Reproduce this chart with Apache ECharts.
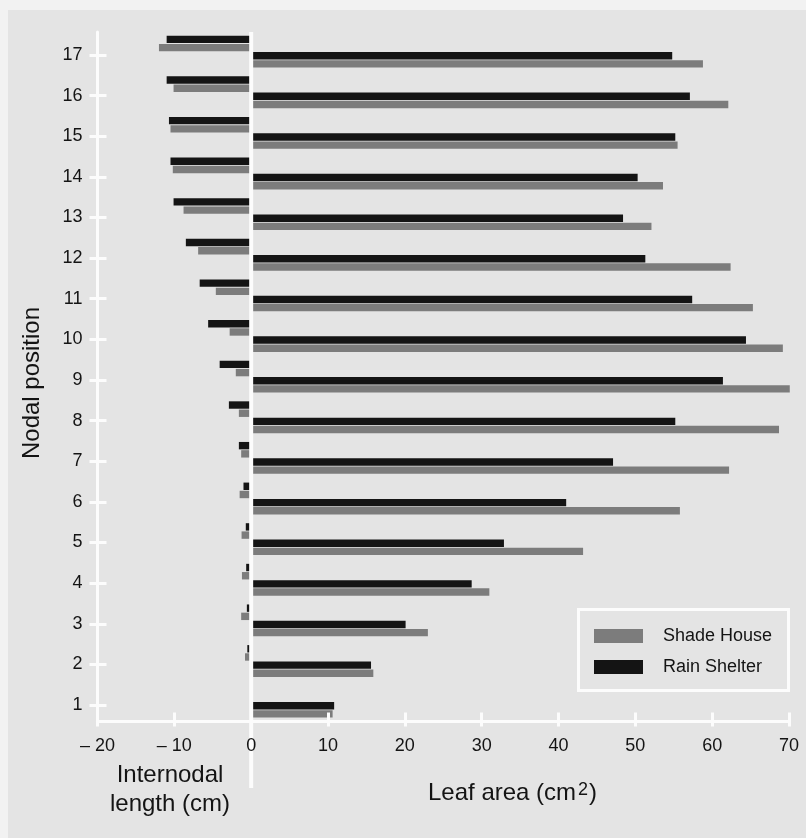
<!DOCTYPE html>
<html>
<head>
<meta charset="utf-8">
<script src="https://cdn.jsdelivr.net/npm/echarts@6/dist/echarts.min.js"></script>
<style>
  html, body { margin: 0; padding: 0; }
  #main { width: 806px; height: 838px; }
</style>
</head>
<body>
<div id="main"></div>
<script>
// nodal position 1 (bottom) .. 17 (top)
var nodalPositions = [1, 2, 3, 4, 5, 6, 7, 8, 9, 10, 11, 12, 13, 14, 15, 16, 17];
// leaf area (cm2), right half
var rainLeafArea  = [10.8, 15.6, 20.1, 28.7, 32.9, 41.0, 47.1, 55.2, 61.4, 64.4, 57.4, 51.3, 48.4, 50.3, 55.2, 57.1, 54.8];
var shadeLeafArea = [10.6, 15.9, 23.0, 31.0, 43.2, 55.8, 62.2, 68.7, 70.1, 69.2, 65.3, 62.4, 52.1, 53.6, 55.5, 62.1, 58.8];
// internodal length (cm), drawn to the left of zero
var rainInternode  = [0, 0.5, 0.56, 0.65, 0.7, 1.0, 1.6, 2.9, 4.1, 5.6, 6.7, 8.5, 10.1, 10.5, 10.7, 11.0, 11.0];
var shadeInternode = [0, 0.8, 1.3, 1.2, 1.25, 1.5, 1.3, 1.6, 2.0, 2.8, 4.6, 6.9, 8.8, 10.2, 10.5, 10.1, 12.0];

var FONT = "'Liberation Sans', Arial, Helvetica, sans-serif";
var WHITE = '#fcfcfc';
var INK = '#141414';
var GREY = '#7c7c7c';
var BAR_H = 7.4, BAR_GAP = 0.8;
var LEFT_TOP = -19.3, RIGHT_TOP = -3.0;   // px offset of each pair from its tick

function pairRenderer(slot, color) {
    return function (params, api) {
        var n = api.value(0);
        var base = api.coord([0, n]);
        var xl = api.coord([-api.value(1), n])[0];
        var xr = api.coord([api.value(2), n])[0];
        var step = slot * (BAR_H + BAR_GAP);
        return {
            type: 'group',
            children: [{
                type: 'rect',
                shape: { x: xl, y: base[1] + LEFT_TOP + step, width: base[0] - xl, height: BAR_H },
                style: { fill: color }
            }, {
                type: 'rect',
                shape: { x: base[0], y: base[1] + RIGHT_TOP + step, width: xr - base[0], height: BAR_H },
                style: { fill: color }
            }]
        };
    };
}

var chart = echarts.init(document.getElementById('main'));

var yMin = 0.594, yMax = 17.566;

chart.setOption({
    animation: false,
    backgroundColor: '#f2f2f2',
    textStyle: { fontFamily: FONT },
    grid: { left: 97.5, right: 17, top: 32, bottom: 116.5 },
    legend: {
        data: ['Shade House', 'Rain Shelter'],
        orient: 'vertical',
        left: 594,
        top: 627,
        padding: 0,
        icon: 'rect',
        itemWidth: 49,
        itemHeight: 14,
        itemGap: 13,
        selectedMode: false,
        textStyle: { fontSize: 18, color: INK, fontFamily: FONT, padding: [0, 0, 0, 15] }
    },
    xAxis: [{
        type: 'value',
        z: 10,
        min: -20, max: 70, interval: 10,
        axisLine: { show: true, onZero: false, lineStyle: { color: WHITE, width: 3 } },
        axisTick: { show: true, length: 5, lineStyle: { color: WHITE, width: 3 } },
        axisLabel: {
            fontSize: 18, color: INK, margin: 16, fontFamily: FONT,
            formatter: function (v) { return v < 0 ? '\u2013 ' + (-v) : String(v); }
        },
        splitLine: { show: false }
    }, {
        type: 'value', position: 'bottom', offset: 0,
        z: 10,
        min: -20, max: 70, interval: 10,
        axisLine: { show: false },
        axisTick: { show: true, inside: true, length: 9, lineStyle: { color: WHITE, width: 3 } },
        axisLabel: { show: false },
        splitLine: { show: false }
    }],
    yAxis: [{
        type: 'value',
        min: yMin, max: yMax,
        axisLine: { show: true, onZero: false, lineStyle: { color: WHITE, width: 3 } },
        axisTick: { show: true, length: 8, customValues: nodalPositions, lineStyle: { color: WHITE, width: 3 } },
        axisLabel: { customValues: nodalPositions, fontSize: 18, color: INK, margin: 15, fontFamily: FONT },
        splitLine: { show: false }
    }, {
        type: 'value', position: 'left', offset: 0,
        min: yMin, max: yMax,
        axisLine: { show: false, onZero: false },
        axisTick: { show: true, inside: true, length: 9, customValues: nodalPositions, lineStyle: { color: WHITE, width: 3 } },
        axisLabel: { show: false },
        splitLine: { show: false }
    }],
    series: [{
        name: 'Rain Shelter',
        type: 'custom',
        clip: false,
        itemStyle: { color: INK },
        encode: { y: 0, x: 2 },
        renderItem: pairRenderer(0, INK),
        data: nodalPositions.map(function (n, i) { return [n, rainInternode[i], rainLeafArea[i]]; })
    }, {
        name: 'Shade House',
        type: 'custom',
        clip: false,
        itemStyle: { color: GREY },
        encode: { y: 0, x: 2 },
        renderItem: pairRenderer(1, GREY),
        data: nodalPositions.map(function (n, i) { return [n, shadeInternode[i], shadeLeafArea[i]]; })
    }]
});

// white divider at zero, plus the frame, legend box and axis titles
var x0 = chart.convertToPixel({ xAxisIndex: 0 }, 0);
chart.setOption({
    graphic: { elements: [{
        type: 'rect', z: -10, silent: true,
        shape: { x: 8, y: 10, width: 806, height: 838 },
        style: { fill: '#e4e4e4' }
    }, {
        type: 'rect', z: 5, silent: true,
        shape: { x: x0 - 2, y: 32, width: 4, height: 756 },
        style: { fill: WHITE }
    }, {
        type: 'rect', z: 100, silent: true,
        shape: { x: 578.5, y: 609.5, width: 210, height: 81 },
        style: { fill: 'none', stroke: WHITE, lineWidth: 3 }
    }, {
        type: 'text', z: 100, silent: true,
        x: 32, y: 383, rotation: Math.PI / 2,
        style: { text: 'Nodal position', font: '24px ' + FONT, fill: INK, align: 'center', verticalAlign: 'middle' }
    }, {
        type: 'text', z: 100, silent: true,
        x: 170, y: 790,
        style: { text: 'Internodal\nlength (cm)', font: '24px ' + FONT, lineHeight: 29, fill: INK, align: 'center', verticalAlign: 'middle' }
    }, {
        type: 'text', z: 100, silent: true,
        x: 428, y: 793,
        style: {
            text: 'Leaf area (cm{sup|2})',
            font: '24px ' + FONT, fill: INK, align: 'left', verticalAlign: 'middle',
            rich: { sup: { fontSize: 18, fontFamily: FONT, fill: INK, padding: [0, 1, 5, 2] } }
        }
    }] }
});
</script>
</body>
</html>
